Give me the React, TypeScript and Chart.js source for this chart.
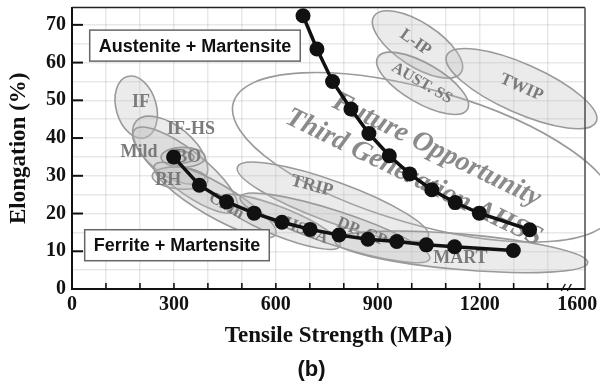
import { useEffect, useRef } from "react";
import { Chart, registerables } from "chart.js";

Chart.register(...registerables);

// Ferrite + Martensite route (lower curve): tensile strength (MPa) vs elongation (%)
const ferriteMartensiteStrength = [299, 375, 455, 536, 618, 701, 786, 871, 956, 1043, 1126, 1299];
const ferriteMartensiteElongation = [35.0, 27.5, 23.1, 20.1, 17.7, 15.8, 14.3, 13.2, 12.6, 11.7, 11.2, 10.2];

// Austenite + Martensite route (upper curve)
const austeniteMartensiteStrength = [680, 721, 767, 821, 874, 934, 994, 1059, 1128, 1199, 1347];
const austeniteMartensiteElongation = [72.4, 63.6, 55.0, 47.7, 41.2, 35.3, 30.5, 26.3, 22.9, 20.1, 15.7];

// Axis: the strength axis is broken after 1400; its far end is labelled 1600
const xAxisEnd = 1510;
const xEndLabelAt = 1487;
const xTickValues = [0, 100, 200, 300, 400, 500, 600, 700, 800, 900, 1000, 1100, 1200, 1300, 1400, xEndLabelAt];
const xTickLabels: Record<number, string> = { 0: "0", 300: "300", 600: "600", 900: "900", 1200: "1200", [xEndLabelAt]: "1600" };
const yAxisMax = 74.6;
const yTickValues = [0, 5, 10, 15, 20, 25, 30, 35, 40, 45, 50, 55, 60, 65, 70];
const yLabelledTicks = [0, 10, 20, 30, 40, 50, 60, 70];

// Steel-family envelopes: centre (MPa, %), half major axis (dMPa, d%), minor/major ratio
type Region = { x: number; y: number; dx: number; dy: number; ratio: number; filled: boolean };
const steelRegions: Region[] = [
  { x: 1035, y: 34.9, dx: 560, dy: -14.5, ratio: 0.34, filled: false }, // future opportunity
  { x: 189, y: 48.2, dx: 26, dy: -8.1, ratio: 0.63, filled: true }, // IF
  { x: 289, y: 36.8, dx: 101, dy: -7.6, ratio: 0.53, filled: true }, // IF-HS
  { x: 333, y: 31.5, dx: 150, dy: -10.6, ratio: 0.31, filled: true }, // Mild
  { x: 318, y: 29.4, dx: 82, dy: -0.65, ratio: 0.39, filled: true }, // BH
  { x: 327, y: 34.9, dx: 65, dy: 0, ratio: 0.45, filled: true }, // BO outer
  { x: 321, y: 34.9, dx: 38, dy: 0, ratio: 0.46, filled: true }, // BO inner
  { x: 421, y: 23.6, dx: 178, dy: -9.2, ratio: 0.24, filled: true }, // CMn
  { x: 612, y: 17.8, dx: 177, dy: -6.4, ratio: 0.22, filled: true }, // HSLA
  { x: 768, y: 23.1, dx: 281, dy: -9.2, ratio: 0.2, filled: true }, // TRIP
  { x: 774, y: 16.2, dx: 279, dy: -8.2, ratio: 0.17, filled: true }, // DP, CP
  { x: 1146, y: 9.85, dx: 372, dy: -2.9, ratio: 0.14, filled: true }, // MART
  { x: 1017, y: 64.8, dx: 128, dy: -7.5, ratio: 0.42, filled: true }, // L-IP
  { x: 1032, y: 54.5, dx: 132, dy: -6.9, ratio: 0.38, filled: true }, // AUST. SS
  { x: 1323, y: 53.1, dx: 220, dy: -8.8, ratio: 0.3, filled: true }, // TWIP
];

type Tag = { text: string; x: number; y: number; angle: number; size: number };
const steelNames: Tag[] = [
  { text: "IF", x: 203, y: 49.5, angle: 0, size: 18 },
  { text: "IF-HS", x: 350, y: 42.3, angle: 0, size: 18 },
  { text: "Mild", x: 197, y: 36.3, angle: 0, size: 18 },
  { text: "BO", x: 342, y: 34.9, angle: 0, size: 18 },
  { text: "BH", x: 283, y: 28.9, angle: 0, size: 18 },
  { text: "CMn", x: 454, y: 22.0, angle: 30, size: 17 },
  { text: "HSLA", x: 689, y: 15.4, angle: 22, size: 17 },
  { text: "TRIP", x: 706, y: 27.3, angle: 15, size: 18 },
  { text: "DP, CP", x: 853, y: 15.1, angle: 22, size: 17 },
  { text: "MART", x: 1143, y: 8.2, angle: 0, size: 18 },
  { text: "L-IP", x: 1011, y: 65.3, angle: 35, size: 17 },
  { text: "AUST. SS", x: 1030, y: 54.5, angle: 30, size: 16 },
  { text: "TWIP", x: 1323, y: 53.4, angle: 24, size: 17 },
];

const opportunityText: Tag[] = [
  { text: "Future Opportunity", x: 1073, y: 36.8, angle: 26, size: 28 },
  { text: "Third Generation AHSS", x: 1006, y: 29.5, angle: 26, size: 28 },
];

const routeBoxes = [
  { text: "Austenite + Martensite", x: 362, y: 64.5 },
  { text: "Ferrite + Martensite", x: 309, y: 11.6 },
];

const serif = "'Liberation Serif', 'Times New Roman', serif";
const sans = "'Liberation Sans', Arial, sans-serif";
const gridColor = "rgba(0,0,0,0.09)";

const decorations = {
  id: "steelDecorations",
  beforeDatasetsDraw(chart: Chart) {
    const { ctx } = chart;
    const xs = chart.scales.x;
    const ys = chart.scales.y;
    ctx.save();
    for (const r of steelRegions) {
      const cx = xs.getPixelForValue(r.x);
      const cy = ys.getPixelForValue(r.y);
      const ex = xs.getPixelForValue(r.x + r.dx) - cx;
      const ey = ys.getPixelForValue(r.y + r.dy) - cy;
      const a = Math.hypot(ex, ey);
      ctx.beginPath();
      ctx.ellipse(cx, cy, a, a * r.ratio, Math.atan2(ey, ex), 0, Math.PI * 2);
      if (r.filled) {
        ctx.fillStyle = "rgba(190,190,190,0.3)";
        ctx.fill();
      }
      ctx.strokeStyle = "#9a9a9a";
      ctx.lineWidth = 1.6;
      ctx.stroke();
    }
    ctx.textAlign = "center";
    ctx.textBaseline = "middle";
    for (const t of steelNames) {
      ctx.save();
      ctx.translate(xs.getPixelForValue(t.x), ys.getPixelForValue(t.y));
      ctx.rotate((t.angle * Math.PI) / 180);
      ctx.font = `bold ${t.size}px ${serif}`;
      ctx.fillStyle = "#7a7a7a";
      ctx.fillText(t.text, 0, 0);
      ctx.restore();
    }
    for (const t of opportunityText) {
      ctx.save();
      ctx.translate(xs.getPixelForValue(t.x), ys.getPixelForValue(t.y));
      ctx.rotate((t.angle * Math.PI) / 180);
      ctx.font = `italic bold ${t.size}px ${serif}`;
      ctx.fillStyle = "#8a8a8a";
      ctx.fillText(t.text, 0, 0);
      ctx.restore();
    }
    ctx.restore();
  },
  afterDatasetsDraw(chart: Chart) {
    const { ctx, chartArea } = chart;
    const xs = chart.scales.x;
    const ys = chart.scales.y;
    const { left, right, top, bottom } = chartArea;
    ctx.save();

    // route boxes
    ctx.font = `bold 18px ${sans}`;
    ctx.textAlign = "center";
    ctx.textBaseline = "middle";
    for (const b of routeBoxes) {
      const cx = xs.getPixelForValue(b.x);
      const cy = ys.getPixelForValue(b.y);
      const w = ctx.measureText(b.text).width + 18;
      const h = 31;
      ctx.fillStyle = "#fff";
      ctx.fillRect(cx - w / 2, cy - h / 2, w, h);
      ctx.strokeStyle = "#666";
      ctx.lineWidth = 1.5;
      ctx.strokeRect(cx - w / 2, cy - h / 2, w, h);
      ctx.fillStyle = "#111";
      ctx.fillText(b.text, cx, cy + 1);
    }

    // frame top and right
    ctx.strokeStyle = "#222";
    ctx.lineWidth = 1.6;
    ctx.beginPath();
    ctx.moveTo(left, top);
    ctx.lineTo(right, top);
    ctx.stroke();
    ctx.strokeStyle = "#555";
    ctx.beginPath();
    ctx.moveTo(right, top);
    ctx.lineTo(right, bottom);
    ctx.stroke();

    // inward ticks
    ctx.strokeStyle = "#111";
    ctx.lineWidth = 2;
    for (const v of yLabelledTicks) {
      if (v === 0) continue;
      const y = ys.getPixelForValue(v);
      ctx.beginPath();
      ctx.moveTo(left, y);
      ctx.lineTo(left + 11, y);
      ctx.stroke();
    }
    ctx.lineWidth = 1.6;
    for (const v of xTickValues) {
      if (v === 0 || v === xEndLabelAt) continue;
      const x = xs.getPixelForValue(v);
      ctx.beginPath();
      ctx.moveTo(x, bottom);
      ctx.lineTo(x, bottom - 6);
      ctx.stroke();
    }

    // axis break marks
    const bx = xs.getPixelForValue(1455);
    ctx.lineWidth = 1.4;
    for (const off of [-3, 3]) {
      ctx.beginPath();
      ctx.moveTo(bx + off - 2, bottom + 2);
      ctx.lineTo(bx + off + 2, bottom - 5);
      ctx.stroke();
    }

    // axis title and panel tag
    ctx.fillStyle = "#111";
    ctx.font = `bold 23px ${serif}`;
    ctx.fillText("Tensile Strength (MPa)", (left + right) / 2 + 10, bottom + 47);
    ctx.font = `bold 22px ${sans}`;
    ctx.fillText("(b)", (left + right) / 2 - 17, bottom + 81);
    ctx.restore();
  },
};

export default function App() {
  const canvasRef = useRef<HTMLCanvasElement | null>(null);

  useEffect(() => {
    if (!canvasRef.current) return;
    const chart = new Chart(canvasRef.current, {
      type: "scatter",
      data: {
        datasets: [
          {
            label: "Austenite + Martensite",
            data: austeniteMartensiteStrength.map((x, i) => ({ x, y: austeniteMartensiteElongation[i] })),
            showLine: true,
            borderColor: "#111",
            backgroundColor: "#111",
            borderWidth: 3.5,
            pointRadius: 7.5,
            pointBorderWidth: 0,
          },
          {
            label: "Ferrite + Martensite",
            data: ferriteMartensiteStrength.map((x, i) => ({ x, y: ferriteMartensiteElongation[i] })),
            showLine: true,
            borderColor: "#111",
            backgroundColor: "#111",
            borderWidth: 3.5,
            pointRadius: 7.5,
            pointBorderWidth: 0,
          },
        ],
      },
      options: {
        responsive: true,
        maintainAspectRatio: false,
        animation: false,
        layout: { padding: { left: 0, right: 15, top: 7, bottom: 0 } },
        plugins: {
          legend: { display: false },
          tooltip: { enabled: false },
        },
        scales: {
          x: {
            type: "linear",
            min: 0,
            max: xAxisEnd,
            afterBuildTicks: (scale: any) => {
              scale.ticks = xTickValues.map((value) => ({ value }));
            },
            afterFit: (scale: any) => {
              scale.height = 97;
              scale.paddingLeft = 0;
              scale.paddingRight = 0;
            },
            ticks: {
              autoSkip: false,
              maxRotation: 0,
              padding: 4,
              color: "#111",
              font: { family: serif, weight: "bold", size: 20 },
              callback: (v: any) => xTickLabels[Number(v)] ?? "",
            },
            grid: {
              color: (c: any) => (c.tick && c.tick.value === xEndLabelAt ? "rgba(0,0,0,0)" : gridColor),
              lineWidth: 1.5,
              drawTicks: false,
            },
            border: { color: "#111", width: 2 },
          },
          y: {
            type: "linear",
            min: 0,
            max: yAxisMax,
            afterBuildTicks: (scale: any) => {
              scale.ticks = yTickValues.map((value) => ({ value }));
            },
            ticks: {
              autoSkip: false,
              padding: 6,
              color: "#111",
              font: { family: serif, weight: "bold", size: 20 },
              callback: (v: any) => (yLabelledTicks.includes(Number(v)) ? String(v) : ""),
            },
            afterFit: (scale: any) => {
              scale.width = 72;
              scale.paddingTop = 0;
              scale.paddingBottom = 0;
            },
            grid: { color: gridColor, lineWidth: 1.5, drawTicks: false },
            border: { color: "#111", width: 2 },
            title: {
              display: true,
              text: "Elongation (%)",
              color: "#111",
              font: { family: serif, weight: "bold", size: 23 },
              padding: { top: 5, bottom: 0 },
            },
          },
        },
      },
      plugins: [decorations],
    });
    return () => chart.destroy();
  }, []);

  return (
    <div style={{ position: "fixed", left: 0, top: 0, width: 600, height: 386, background: "#fff" }}>
      <canvas ref={canvasRef} />
    </div>
  );
}
